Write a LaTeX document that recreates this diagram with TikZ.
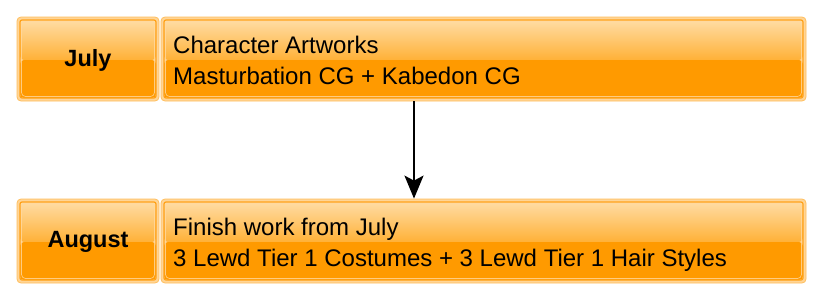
\documentclass[tikz,border=0pt]{standalone}
\usepackage{fontspec}
\setmainfont{Liberation Sans}
\usetikzlibrary{arrows.meta,calc}
\definecolor{ringfill}{HTML}{FFD596}
\definecolor{ringdraw}{HTML}{FFBE5C}
\definecolor{gradtop}{HTML}{FFDCA4}
\definecolor{gradmid}{HTML}{FFB137}
\definecolor{lowfill}{HTML}{FF9A00}
\definecolor{innerdraw}{HTML}{FFA21A}
\definecolor{hilite}{HTML}{FFD9A0}
\tikzset{
  mybox/.style={rectangle, rounded corners=4pt, draw=ringdraw, line width=0.8pt, fill=ringfill, inner sep=0pt,
    path picture={
      \coordinate (ppnw) at ([shift={(3pt,-3pt)}]path picture bounding box.north west);
      \coordinate (ppse) at ([shift={(-3pt,3pt)}]path picture bounding box.south east);
      \coordinate (ppc) at ([yshift=-1pt]path picture bounding box.center);
      \shade[top color=gradtop, bottom color=gradmid] (ppnw) rectangle (ppse |- ppc);
      \fill[lowfill] (ppnw |- ppc) rectangle (ppse);
      \draw[innerdraw, line width=1.2pt, rounded corners=2pt] (ppnw) rectangle (ppse);
      \draw[hilite, line width=0.7pt, opacity=0.8] ([shift={(1.5pt,-1.5pt)}]ppnw) rectangle ([shift={(-1.5pt,1.5pt)}]ppse);
    }},
  lbl/.style={font=\fontsize{23.5}{26}\selectfont\bfseries},
  txt/.style={font=\fontsize{24}{28}\selectfont, anchor=base west, inner sep=0pt},
  arr/.style={-{Stealth[length=23pt,width=19pt,inset=5pt]}, line width=2pt, black}
}
\begin{document}
\begin{tikzpicture}[x=1pt,y=-1pt]
\useasboundingbox (0,0) rectangle (822,300);
\node[mybox, minimum width=142pt, minimum height=84pt] (m1) at (88,59) {};
\node[lbl] (m1t) at (88,60) {July};
\node[mybox, minimum width=645pt, minimum height=84pt] (c1) at (483.5,59) {};
\node[txt] (c1a) at (173,53) {Character Artworks};
\node[txt] (c1b) at (173,84) {Masturbation CG + Kabedon CG};
\node[mybox, minimum width=142pt, minimum height=84pt] (m2) at (88,241) {};
\node[lbl] (m2t) at (88,242) {August};
\node[mybox, minimum width=645pt, minimum height=84pt] (c2) at (483.5,241) {};
\node[txt] (c2a) at (173,235) {Finish work from July};
\node[txt] (c2b) at (173,266) {3 Lewd Tier 1 Costumes + 3 Lewd Tier 1 Hair Styles};
\coordinate (ax) at (414,0);
\draw[arr] (c1.south -| ax) -- (c2.north -| ax);
\end{tikzpicture}
\end{document}
